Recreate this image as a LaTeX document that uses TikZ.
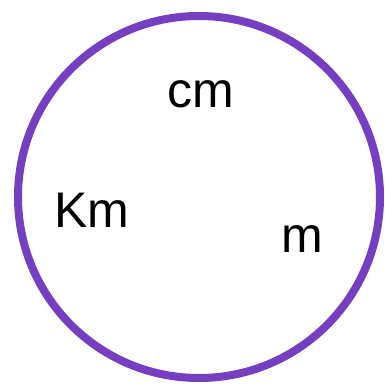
\documentclass[tikz,border=0pt]{standalone}
\usepackage{fontspec}
\setmainfont{Liberation Sans}
\definecolor{ringpurple}{RGB}{118,62,192}
\begin{document}
\begin{tikzpicture}[x=1pt,y=-1pt,
  ring/.style={draw=ringpurple,line width=8pt},
  unit/.style={inner sep=0pt,anchor=base,font=\fontsize{50}{60}\selectfont}]
\useasboundingbox[fill=white] (0,0) rectangle (385,385);
\draw[ring] (199,197) circle[radius=181];
\node[unit] (cm) at (201,108) {cm};
\node[unit] (km) at (92,227) {Km};
\node[unit] (m) at (302,252) {m};
\end{tikzpicture}
\end{document}
